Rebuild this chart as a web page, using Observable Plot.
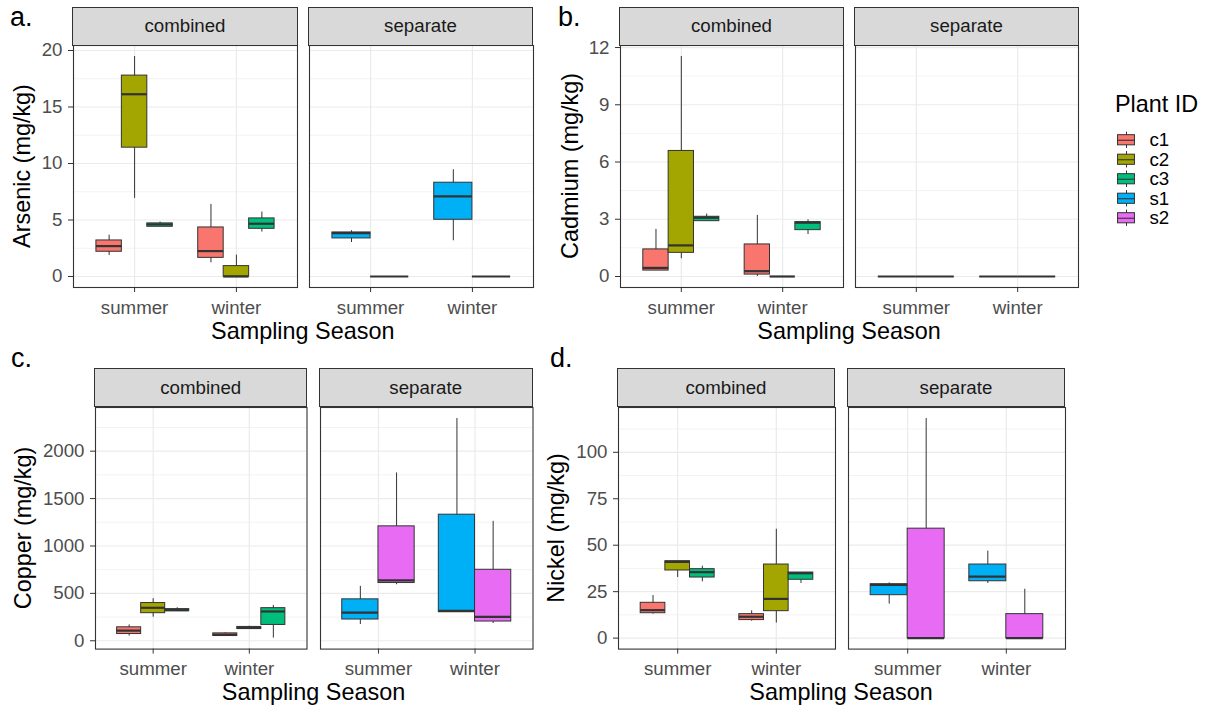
<!DOCTYPE html>
<html><head><meta charset="utf-8">
<script src="https://cdn.jsdelivr.net/npm/d3@7"></script>
<script src="https://cdn.jsdelivr.net/npm/@observablehq/plot@0.6"></script>
<style>
html,body{margin:0;padding:0;background:#fff;}
#root{position:relative;width:1207px;height:711px;overflow:hidden;font-family:"Liberation Sans",Arial,sans-serif;background:#fff;}
.strip{position:absolute;box-sizing:border-box;background:#D9D9D9;border:1.1px solid #333;color:#1A1A1A;font-size:18.7px;display:flex;align-items:center;justify-content:center;}
.ytitle{position:absolute;font-size:23.4px;line-height:1;color:#000;white-space:nowrap;transform:translate(-50%,-50%) rotate(-90deg);}
.xtitle{position:absolute;font-size:23.4px;line-height:1;color:#000;white-space:nowrap;transform:translate(-50%,-50%);}
.tag{position:absolute;font-size:27px;line-height:1;color:#000;}
.ltitle{position:absolute;font-size:23.4px;line-height:1;color:#000;}
#root svg{position:absolute;}
</style></head><body><div id="root"></div>
<script>
const seasons = ["summer", "winter"];
const plants = ["c1", "c2", "c3", "s1", "s2"];
const plantColors = ["#F8766D", "#A3A500", "#00BF7D", "#00B0F6", "#E76BF3"];
const facets = ["combined", "separate"];
const combinedPlants = ["c1", "c2", "c3"];
const separatePlants = ["s1", "s2"];

// plant, season, min, q1, median, q3, max
const arsenic = [
  ["c1", "summer", 1.86, 2.19, 2.69, 3.19, 3.66],
  ["c2", "summer", 6.91, 11.40, 16.13, 17.78, 19.47],
  ["c3", "summer", 4.40, 4.40, 4.61, 4.70, 4.82],
  ["c1", "winter", 1.21, 1.65, 2.25, 4.34, 6.38],
  ["c2", "winter", 0, 0, 0, 0.92, 1.89],
  ["c3", "winter", 3.93, 4.22, 4.67, 5.14, 5.70],
  ["s1", "summer", 3.01, 3.37, 3.84, 3.90, 4.05],
  ["s2", "summer", 0, 0, 0, 0, 0],
  ["s1", "winter", 3.16, 5.02, 7.09, 8.30, 9.45],
  ["s2", "winter", 0, 0, 0, 0, 0]
];
const cadmium = [
  ["c1", "summer", 0.31, 0.31, 0.45, 1.42, 2.47],
  ["c2", "summer", 0.93, 1.24, 1.63, 6.58, 11.53],
  ["c3", "summer", 2.90, 2.90, 3.08, 3.13, 3.27],
  ["c1", "winter", 0, 0.10, 0.28, 1.68, 3.20],
  ["c2", "winter", 0, 0, 0, 0, 0],
  ["c3", "winter", 2.20, 2.43, 2.82, 2.85, 2.97],
  ["s1", "summer", 0, 0, 0, 0, 0],
  ["s2", "summer", 0, 0, 0, 0, 0],
  ["s1", "winter", 0, 0, 0, 0, 0],
  ["s2", "winter", 0, 0, 0, 0, 0]
];
const copper = [
  ["c1", "summer", 50, 71, 107, 142, 167],
  ["c2", "summer", 249, 291, 348, 398, 444],
  ["c3", "summer", 312, 312, 323, 334, 348],
  ["c1", "winter", 50, 50, 64, 78, 85],
  ["c2", "winter", 124, 124, 135, 146, 153],
  ["c3", "winter", 28, 167, 309, 344, 373],
  ["s1", "summer", 171, 224, 297, 437, 574],
  ["s2", "summer", 591, 609, 637, 1207, 1771],
  ["s1", "winter", 301, 301, 315, 1330, 2345],
  ["s2", "winter", 182, 203, 252, 749, 1260]
];
const nickel = [
  ["c1", "summer", 12.9, 13.4, 15.05, 19.0, 22.9],
  ["c2", "summer", 32.6, 36.4, 41.0, 41.4, 41.4],
  ["c3", "summer", 30.3, 32.6, 35.5, 37.1, 38.7],
  ["c1", "winter", 9.1, 9.7, 11.5, 12.9, 14.7],
  ["c2", "winter", 8.1, 14.5, 21.1, 39.6, 58.6],
  ["c3", "winter", 29.4, 31.4, 34.9, 35.3, 35.3],
  ["s1", "summer", 18.3, 23.1, 28.7, 29.0, 29.7],
  ["s2", "summer", 0, 0, 0, 58.9, 118.2],
  ["s1", "winter", 29.4, 30.6, 33.1, 39.6, 46.8],
  ["s2", "winter", 0, 0, 0, 12.9, 26.3]
];

const arsenicTicks = [0, 5, 10, 15, 20];
const arsenicMinor = [2.5, 7.5, 12.5, 17.5];
const cadmiumTicks = [0, 3, 6, 9, 12];
const cadmiumMinor = [1.5, 4.5, 7.5, 10.5];
const copperTicks = [0, 500, 1000, 1500, 2000];
const copperMinor = [250, 750, 1250, 1750, 2250];
const nickelTicks = [0, 25, 50, 75, 100];
const nickelMinor = [12.5, 37.5, 62.5, 87.5, 112.5];

const panels = [
  {tag: "a.", title: "Arsenic (mg/kg)", rows: arsenic, ticks: arsenicTicks, minor: arsenicMinor,
   facetX: [[73, 297], [308.5, 532.5]], top: 45, bottom: 287, stripTop: 7, titleX: 23, tagX: 10, tagY: 4, xTitleY: 332},
  {tag: "b.", title: "Cadmium (mg/kg)", rows: cadmium, ticks: cadmiumTicks, minor: cadmiumMinor,
   facetX: [[620, 843], [855, 1078]], top: 45, bottom: 287, stripTop: 7, titleX: 571, tagX: 558, tagY: 4, xTitleY: 332},
  {tag: "c.", title: "Copper (mg/kg)", rows: copper, ticks: copperTicks, minor: copperMinor,
   facetX: [[95, 306.5], [319.5, 532]], top: 406.7, bottom: 648.3, stripTop: 368, titleX: 24, tagX: 11, tagY: 345, xTitleY: 693.3},
  {tag: "d.", title: "Nickel (mg/kg)", rows: nickel, ticks: nickelTicks, minor: nickelMinor,
   facetX: [[617.5, 834.5], [847.5, 1064.5]], top: 406.7, bottom: 648.3, stripTop: 368, titleX: 557, tagX: 550, tagY: 345, xTitleY: 693.3}
];

const root = document.getElementById("root");
const fontFamily = "Liberation Sans, Arial, sans-serif";
const tickFont = 18.7;

function addDiv(cls, text, style) {
  const d = document.createElement("div");
  d.className = cls;
  d.textContent = text;
  Object.assign(d.style, style);
  root.appendChild(d);
  return d;
}

function facetPlot(p, fi, yDomain) {
  const fp = fi === 0 ? combinedPlants : separatePlants;
  const n = fp.length;
  const rows = p.rows.filter(r => fp.includes(r[0])).map(r => {
    const i = fp.indexOf(r[0]);
    const s = seasons.indexOf(r[1]) + 1;
    const c = s - 0.375 + (i + 0.5) * 0.75 / n;
    const hw = 0.375 / n;
    return {plant: r[0], season: r[1], x: c, x1: c - hw, x2: c + hw,
            min: r[2], q1: r[3], med: r[4], q3: r[5], max: r[6]};
  });
  const [L, R] = p.facetX[fi];
  const mL = fi === 0 ? 70 : 2, mR = 2, mT = 2, mB = 36;
  const width = (R - L) + mL + mR;
  const height = (p.bottom - p.top) + mT + mB;
  const marks = [
    Plot.gridY(p.minor, {stroke: "#EBEBEB", strokeOpacity: 1, strokeWidth: 0.6}),
    Plot.gridY(p.ticks, {stroke: "#EBEBEB", strokeOpacity: 1, strokeWidth: 1.2}),
    Plot.gridX([1, 2], {stroke: "#EBEBEB", strokeOpacity: 1, strokeWidth: 1.2}),
    Plot.ruleX(rows, {x: "x", y1: "min", y2: "max", stroke: "#333", strokeWidth: 1}),
    Plot.rect(rows, {x1: "x1", x2: "x2", y1: "q1", y2: "q3", fill: "plant", stroke: "#333", strokeWidth: 1}),
    Plot.ruleY(rows, {y: "med", x1: "x1", x2: "x2", stroke: "#333", strokeWidth: 2.2}),
    Plot.axisX([1, 2], {tickFormat: d => seasons[d - 1], tickSize: 5, tickPadding: 8, stroke: "#333",
                        fill: "#4D4D4D", fontSize: tickFont, label: null}),
    Plot.frame({stroke: "#333", strokeWidth: 1.1})
  ];
  if (fi === 0) {
    marks.push(Plot.axisY(p.ticks, {tickFormat: d => String(d), tickSize: 5, tickPadding: 6, stroke: "#333",
                                     fill: "#4D4D4D", fontSize: tickFont, label: null}));
  }
  const svg = Plot.plot({
    width, height,
    marginLeft: mL, marginRight: mR, marginTop: mT, marginBottom: mB,
    style: {fontFamily, fontSize: tickFont + "px", background: "transparent", overflow: "visible"},
    x: {type: "linear", domain: [0.4, 2.6], axis: null, label: null},
    y: {type: "linear", domain: yDomain, axis: null, label: null},
    color: {type: "ordinal", domain: plants, range: plantColors},
    marks
  });
  svg.style.left = (L - mL) + "px";
  svg.style.top = (p.top - mT) + "px";
  root.appendChild(svg);

  addDiv("strip", facets[fi], {
    left: (L - 0.55) + "px", top: p.stripTop + "px",
    width: (R - L + 1.1) + "px", height: (p.top - p.stripTop + 0.55) + "px"
  });
}

for (const p of panels) {
  const lo = d3.min(p.rows, r => r[2]);
  const hi = d3.max(p.rows, r => r[6]);
  const pad = 0.05 * (hi - lo);
  const yDomain = [lo - pad, hi + pad];
  facetPlot(p, 0, yDomain);
  facetPlot(p, 1, yDomain);
  addDiv("tag", p.tag, {left: p.tagX + "px", top: p.tagY + "px"});
  addDiv("ytitle", p.title, {left: p.titleX + "px", top: ((p.top + p.bottom) / 2) + "px"});
  addDiv("xtitle", "Sampling Season", {
    left: ((p.facetX[0][0] + p.facetX[1][1]) / 2) + "px", top: p.xTitleY + "px"
  });
}

// legend
addDiv("ltitle", "Plant ID", {left: "1115px", top: "93px"});
const legendRows = plants.map((plant, i) => ({plant, i}));
const legend = Plot.plot({
  width: 90, height: 97.5,
  marginLeft: 2, marginRight: 70, marginTop: 0, marginBottom: 0,
  style: {fontFamily, fontSize: tickFont + "px", background: "transparent", overflow: "visible"},
  x: {type: "linear", domain: [0, 1], axis: null},
  y: {type: "linear", domain: [4.5, -0.5], axis: null},
  color: {type: "ordinal", domain: plants, range: plantColors},
  marks: [
    Plot.ruleX(legendRows, {x: 0.5, y1: d => d.i - 0.42, y2: d => d.i + 0.42, stroke: "#333", strokeWidth: 1}),
    Plot.rect(legendRows, {x1: 0.03, x2: 0.97, y1: d => d.i - 0.26, y2: d => d.i + 0.26, fill: "plant", stroke: "#333", strokeWidth: 1}),
    Plot.ruleY(legendRows, {y: "i", x1: 0.03, x2: 0.97, stroke: "#333", strokeWidth: 1.1}),
    Plot.text(legendRows, {x: 1, y: "i", text: "plant", textAnchor: "start", dx: 14, fontSize: tickFont, fill: "#000"})
  ]
});
legend.style.left = "1115px";
legend.style.top = "130.25px";
root.appendChild(legend);
</script>
</body></html>
